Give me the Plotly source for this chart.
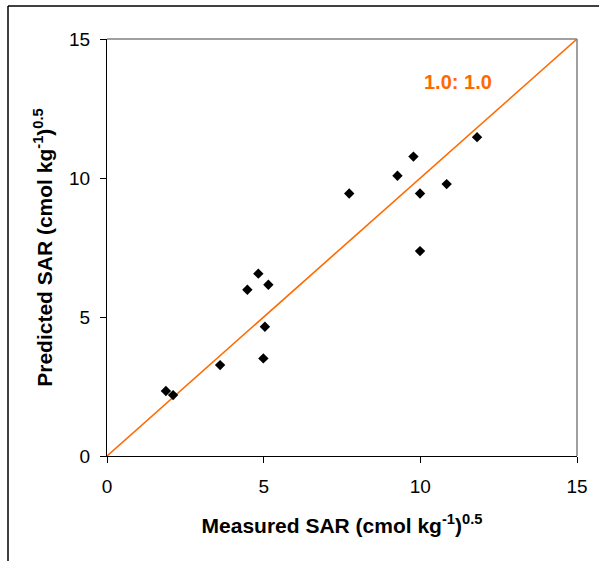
import plotly.graph_objects as go

measured = [1.88, 2.11, 3.61, 4.99, 5.04, 4.48, 4.83, 5.15, 7.73, 9.27, 9.78, 9.99, 9.99, 10.84, 11.81]
predicted = [2.34, 2.19, 3.27, 3.51, 4.65, 5.98, 6.56, 6.16, 9.44, 10.08, 10.77, 9.44, 7.37, 9.78, 11.47]
line_x = [0, 15]
line_y = [0, 15]
tick_vals = [0, 5, 10, 15]

W, H = 599, 561
L, R, T, B = 107, 22, 39, 105
pw, ph = W - L - R, H - T - B

def px(x):
    return (x - L) / pw

def py(y):
    return (H - B - y) / ph

FONT = "Arial, Liberation Sans, sans-serif"
ORANGE = "#FF6A00"

fig = go.Figure()
fig.add_trace(go.Scatter(x=line_x, y=line_y, mode="lines",
                         line=dict(color=ORANGE, width=1.6),
                         cliponaxis=False, showlegend=False, hoverinfo="skip"))
fig.add_trace(go.Scatter(x=measured, y=predicted, mode="markers",
                         marker=dict(symbol="diamond", color="black", size=8),
                         cliponaxis=False, showlegend=False))

fig.add_annotation(x=11.2, y=13.45, text="<b>1.0: 1.0</b>", showarrow=False,
                   font=dict(family=FONT, size=20, color=ORANGE))

axis_common = dict(range=[0, 15], tickvals=tick_vals, showgrid=False, zeroline=False,
                   showline=True, linecolor="black", linewidth=1,
                   ticks="outside", ticklen=6, tickcolor="black",
                   tickfont=dict(family=FONT, size=19, color="black"))

fig.update_xaxes(**axis_common, ticklabelstandoff=7,
                 title=dict(text="<b>Measured SAR (cmol kg<sup>-1</sup>)<sup>0.5</sup></b>",
                            font=dict(family=FONT, size=21, color="black"),
                            standoff=22))
fig.update_yaxes(**axis_common, ticklabelstandoff=6,
                 title=dict(text="<b>Predicted SAR (cmol kg<sup>-1</sup>)<sup>0.5</sup></b>",
                            font=dict(family=FONT, size=21, color="black"),
                            standoff=10))

# gray top and right borders of plot area
fig.add_shape(type="line", xref="paper", yref="paper", x0=0, x1=1, y0=1, y1=1,
              line=dict(color="#808080", width=1.5))
fig.add_shape(type="line", xref="paper", yref="paper", x0=1, x1=1, y0=0, y1=1,
              line=dict(color="#808080", width=1.5))

# outer frame (top and left edges only are visible)
fig.add_shape(type="line", xref="paper", yref="paper",
              x0=px(8), x1=px(610), y0=py(6), y1=py(6),
              line=dict(color="black", width=1.5), layer="below")
fig.add_shape(type="line", xref="paper", yref="paper",
              x0=px(8), x1=px(8), y0=py(6), y1=py(575),
              line=dict(color="black", width=1.5), layer="below")

fig.update_layout(width=W, height=H, margin=dict(l=L, r=R, t=T, b=B, autoexpand=False),
                  paper_bgcolor="white", plot_bgcolor="white",
                  font=dict(family=FONT, color="black"))

fig.write_html("out.html", config={"displayModeBar": False},
               post_script="document.body.style.margin='0';document.body.style.overflow='hidden';")
